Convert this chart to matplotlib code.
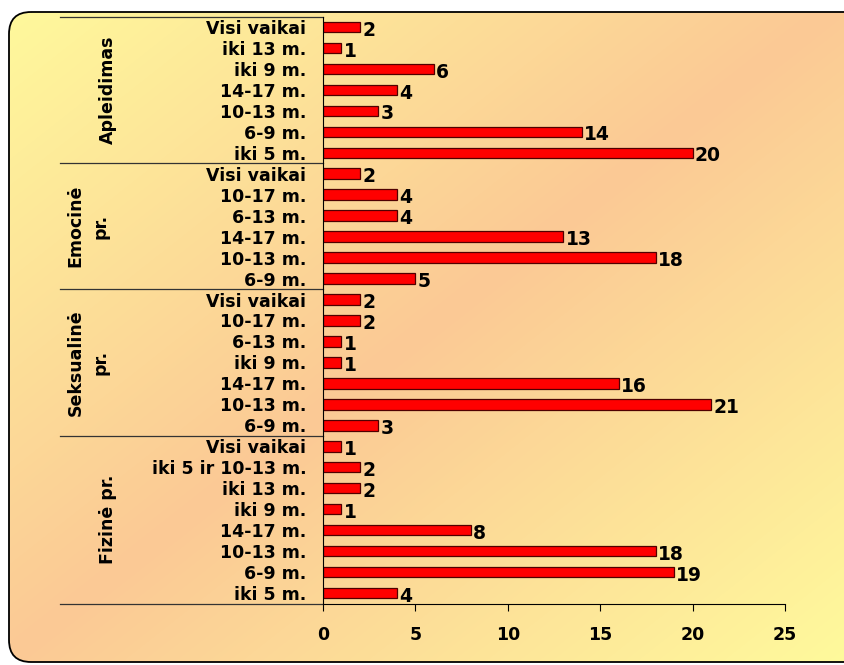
import numpy as np
import matplotlib
matplotlib.use("Agg")
import matplotlib.pyplot as plt
from matplotlib.patches import FancyBboxPatch
from matplotlib.colors import LinearSegmentedColormap
from matplotlib.lines import Line2D

plt.rcParams['font.family'] = ['DejaVu Sans']
plt.rcParams['font.weight'] = 'bold'

# data, bottom to top
groups = ["Fizinė pr.", "Seksualinė\npr.", "Emocinė\npr.", "Apleidimas"]
fizine_labels = ["iki 5 m.", "6-9 m.", "10-13 m.", "14-17 m.", "iki 9 m.", "iki 13 m.",
                 "iki 5 ir 10-13 m.", "Visi vaikai"]
fizine_vals = [4, 19, 18, 8, 1, 2, 2, 1]
seks_labels = ["6-9 m.", "10-13 m.", "14-17 m.", "iki 9 m.", "6-13 m.", "10-17 m.", "Visi vaikai"]
seks_vals = [3, 21, 16, 1, 1, 2, 2]
emoc_labels = ["6-9 m.", "10-13 m.", "14-17 m.", "6-13 m.", "10-17 m.", "Visi vaikai"]
emoc_vals = [5, 18, 13, 4, 4, 2]
aple_labels = ["iki 5 m.", "6-9 m.", "10-13 m.", "14-17 m.", "iki 9 m.", "iki 13 m.", "Visi vaikai"]
aple_vals = [20, 14, 3, 4, 6, 1, 2]

group_labels = [fizine_labels, seks_labels, emoc_labels, aple_labels]
group_vals = [fizine_vals, seks_vals, emoc_vals, aple_vals]

labels = sum(group_labels, [])
values = sum(group_vals, [])
y = np.arange(len(labels))

fig = plt.figure(figsize=(8.45, 6.65), dpi=100)

# background with diagonal gradient inside a rounded box
bg = fig.add_axes([0, 0, 1, 1], zorder=0)
bg.set_xlim(0, 845)
bg.set_ylim(665, 0)
bg.axis("off")
cmap = LinearSegmentedColormap.from_list("bg", ["#fffa9c", "#fbc995", "#fffa9c"])
yy, xx = np.mgrid[0:665, 0:845]
t = (xx / 845 + yy / 665) / 2
box = FancyBboxPatch((9, 12), 860, 650, boxstyle="round,pad=0,rounding_size=22",
                     facecolor="none", edgecolor="black", linewidth=1.3)
bg.add_patch(box)
im = bg.imshow(t, cmap=cmap, extent=(0, 845, 665, 0), aspect="auto")
im.set_clip_path(box)

ax = fig.add_axes([323 / 845, 1 - 603.5 / 665, 462 / 845, 587 / 665], zorder=1)
ax.patch.set_alpha(0)
ax.barh(y, values, height=0.5, color="#ff0000", edgecolor="#500000", linewidth=0.9)
for yi, v in zip(y, values):
    ax.text(v + 0.12, yi - 0.15, str(v), ha="left", va="center", fontsize=13.5,
            fontweight="bold")

ax.set_xlim(0, 25)
ax.set_ylim(-0.5, len(labels) - 0.5)
ax.set_xticks([0, 5, 10, 15, 20, 25])
ax.tick_params(axis="x", length=5, width=0.8, pad=11, labelsize=12.5)
ax.set_yticks(y)
ax.set_yticklabels(labels, fontsize=12.5, fontweight="bold")
ax.tick_params(axis="y", length=0, pad=12)
for s in ["top", "right"]:
    ax.spines[s].set_visible(False)
ax.spines["left"].set_linewidth(0.8)
ax.spines["bottom"].set_linewidth(0.8)

# group separators and group names
x0 = (60 - 323) / 462
start = -0.5
for name, lab in zip(groups, group_labels):
    end = start + len(lab)
    ax.add_line(Line2D([x0, 0], [start, start], transform=ax.get_yaxis_transform(),
                       color="#333333", linewidth=0.9, clip_on=False))
    ax.text((108 - 323) / 462 if "\n" not in name else (88 - 323) / 462,
            (start + end) / 2, name, transform=ax.get_yaxis_transform(),
            rotation=90, ha="center", va="center", fontsize=12.5, fontweight="bold",
            multialignment="center", linespacing=1.5)
    start = end
ax.add_line(Line2D([x0, 0], [start, start], transform=ax.get_yaxis_transform(),
                   color="#333333", linewidth=0.9, clip_on=False))

fig.savefig("out.png", dpi=100)
